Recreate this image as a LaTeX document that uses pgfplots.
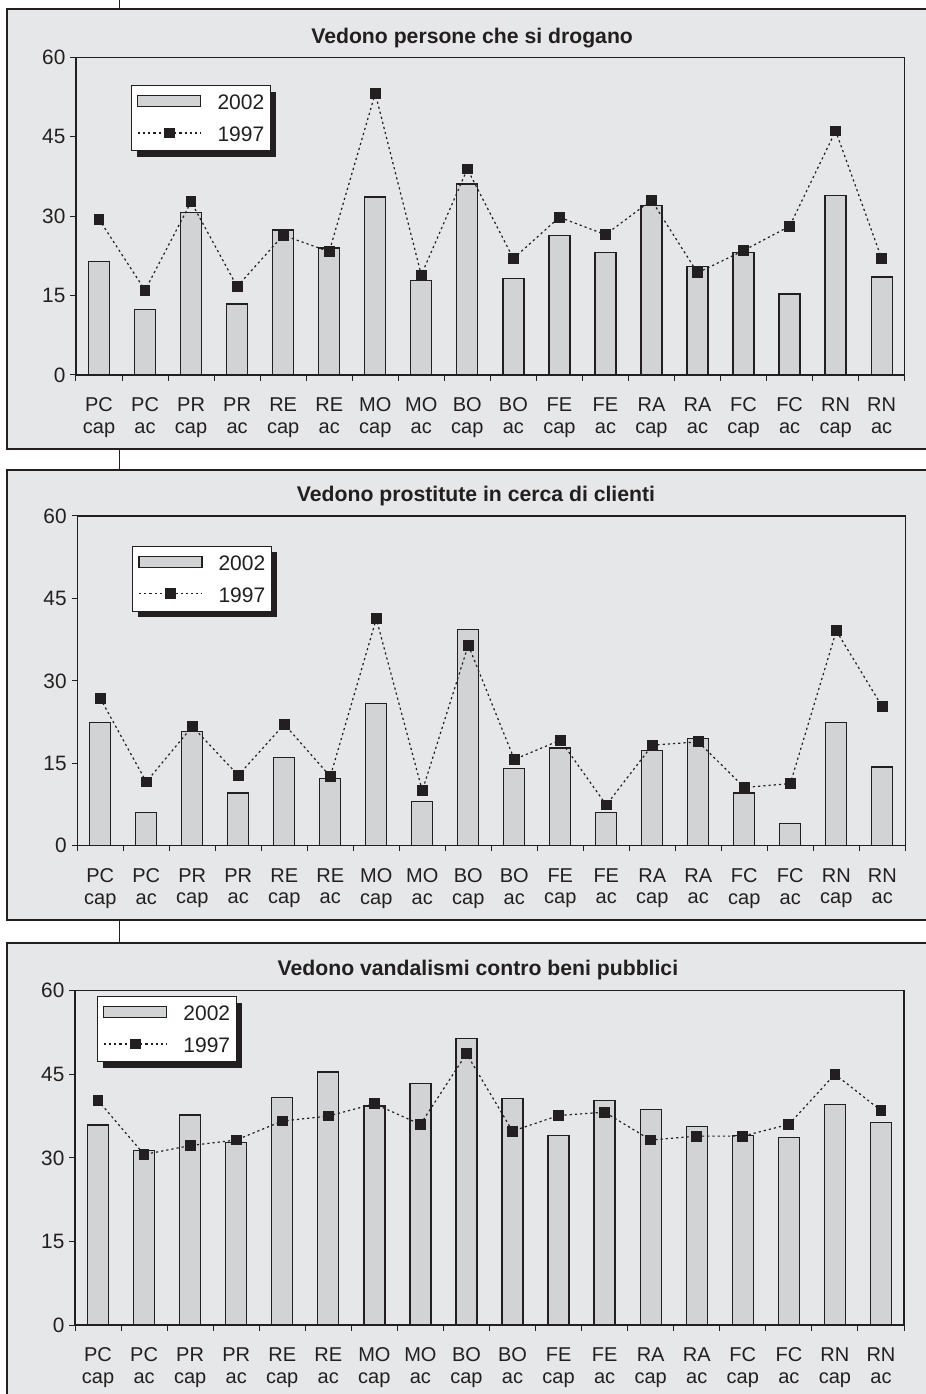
\documentclass[border=0pt]{standalone}
\usepackage{fontspec}
\setmainfont{Liberation Sans}
\usepackage{pgfplots}
\usepackage{pgfplotstable}
\pgfplotsset{compat=1.18}
\usetikzlibrary{shadows}

\makeatletter
\tikzset{nopreactions/.code={\let\tikz@preactions\pgfutil@empty}}
\makeatother

\definecolor{panelbg}{HTML}{E6E7E8}
\definecolor{barfill}{HTML}{D1D3D4}
\definecolor{ink}{HTML}{231F20}

\pgfplotstableread{
x a b
0 21.5 29.4
1 12.4 16.0
2 30.7 32.7
3 13.4 16.7
4 27.4 26.4
5 24.0 23.3
6 33.6 53.2
7 17.9 18.9
8 36.1 38.9
9 18.2 22.0
10 26.4 29.8
11 23.1 26.5
12 32.0 33.0
13 20.5 19.3
14 23.1 23.5
15 15.3 28.1
16 33.9 46.1
17 18.5 22.0
}\dataA

\pgfplotstableread{
x a b
0 22.4 26.8
1 6.1 11.6
2 20.8 21.7
3 9.6 12.8
4 16.0 22.1
5 12.2 12.6
6 25.9 41.3
7 8.0 10.0
8 39.3 36.5
9 14.0 15.7
10 17.8 19.2
11 6.1 7.4
12 17.3 18.3
13 19.5 18.9
14 9.6 10.6
15 4.1 11.3
16 22.4 39.1
17 14.3 25.3
}\dataB

\pgfplotstableread{
x a b
0 35.9 40.3
1 31.3 30.6
2 37.7 32.2
3 32.8 33.2
4 40.8 36.6
5 45.4 37.5
6 39.3 39.7
7 43.3 36.0
8 51.4 48.7
9 40.6 34.8
10 34.0 37.6
11 40.3 38.2
12 38.7 33.2
13 35.6 33.9
14 34.0 33.9
15 33.7 36.0
16 39.6 45.0
17 36.3 38.5
}\dataC

\pgfplotsset{
  panel/.style={
    scale only axis,
    xmin=-0.5, xmax=17.5, ymin=0, ymax=60,
    ytick={0,15,30,45,60},
    xtick={0,...,17},
    xticklabels={{PC\\cap},{PC\\ac},{PR\\cap},{PR\\ac},{RE\\cap},{RE\\ac},{MO\\cap},{MO\\ac},{BO\\cap},{BO\\ac},{FE\\cap},{FE\\ac},{RA\\cap},{RA\\ac},{FC\\cap},{FC\\ac},{RN\\cap},{RN\\ac}},
    minor xtick={-0.5,0.5,...,17.5},
    tick pos=left,
    tick align=outside,
    major tick length=2.8pt,
    minor tick length=2.8pt,
    major x tick style={draw=none},
    tick style={ink, line width=0.5pt},
    axis line style={ink, line width=0.65pt},
    xticklabel style={align=center, font=\fontsize{10}{10.85}\selectfont, text=ink, yshift=-5pt},
    yticklabel style={font=\fontsize{10.4}{12}\selectfont, text=ink, xshift=1pt},
    /pgf/number format/assume math mode=true,
    title style={font=\bfseries\fontsize{10.6}{12}\selectfont, text=ink, anchor=base},
    legend style={anchor=north west, draw=ink, line width=0.6pt, fill=white,
      font=\fontsize{10.5}{12}\selectfont, text=ink,
      inner xsep=3pt, inner ysep=4.5pt, row sep=8.4pt,
      nodes={inner xsep=0pt, inner ysep=0pt, text height=7.6pt, text depth=0pt},
      drop shadow={shadow xshift=3pt, shadow yshift=-3pt, opacity=1, fill=ink}},
    legend cell align=left,
  },
  barplot/.style={ybar, bar width=10.5pt, fill=barfill, draw=ink, line width=0.65pt,
    legend image code/.code={\draw[nopreactions, fill=barfill, draw=ink, line width=0.6pt] (0pt,-2.15pt) rectangle (31.5pt,3.35pt); \path[nopreactions] (39.5pt,0pt);}},
  lineplot/.style={ink, line width=0.6pt, dash pattern=on 1.1pt off 1.5pt,
    mark=square*, mark size=2.4pt, mark options={solid, fill=ink, draw=ink},
    legend image code/.code={\draw[nopreactions, ##1, mark repeat=2, mark phase=2] plot coordinates {(0pt,0.6pt) (15.75pt,0.6pt) (31.5pt,0.6pt)}; \path[nopreactions] (39.5pt,0pt);}},
}

\begin{document}
\begin{tikzpicture}[x=0.5pt, y=0.5pt]
\useasboundingbox (0,0) rectangle (926,1394);
% panel backgrounds
\filldraw[fill=panelbg, draw=ink, line width=0.65pt] (7,945) rectangle (950,1385);
\filldraw[fill=panelbg, draw=ink, line width=0.65pt] (7,474) rectangle (950,924);
\filldraw[fill=panelbg, draw=ink, line width=0.65pt] (7,-20) rectangle (950,451);
\draw[ink, line width=0.5pt] (119,1394) -- (119,1385);
\draw[ink, line width=0.5pt] (119,945) -- (119,924);
\draw[ink, line width=0.5pt] (119,474) -- (119,451);

\begin{axis}[panel, at={(38pt,509.5pt)}, anchor=south west, width=414.35pt, height=158.85pt,
  title={Vedono persone che si drogano}, title style={at={(0.478,1)}, yshift=1.15pt},
  legend style={at={(0.066,0.913)}}]
\addplot[barplot] table[x=x, y=a] {\dataA};
\addlegendentry{2002}
\addplot[lineplot] table[x=x, y=b] {\dataA};
\addlegendentry{1997}
\end{axis}

\begin{axis}[panel, at={(38.65pt,274.15pt)}, anchor=south west, width=414pt, height=164.85pt,
  title={Vedono prostitute in cerca di clienti}, title style={at={(0.4815,1)}, yshift=1.15pt},
  legend style={at={(0.0657,0.91)}}]
\addplot[barplot] table[x=x, y=a] {\dataB};
\addlegendentry{2002}
\addplot[lineplot] table[x=x, y=b] {\dataB};
\addlegendentry{1997}
\end{axis}

\begin{axis}[panel, at={(37.5pt,34.5pt)}, anchor=south west, width=414.5pt, height=167.15pt,
  title={Vedono vandalismi contro beni pubblici}, title style={at={(0.486,1)}, yshift=1.85pt},
  legend style={at={(0.026,0.984)}}]
\addplot[barplot] table[x=x, y=a] {\dataC};
\addlegendentry{2002}
\addplot[lineplot] table[x=x, y=b] {\dataC};
\addlegendentry{1997}
\end{axis}
\end{tikzpicture}
\end{document}
